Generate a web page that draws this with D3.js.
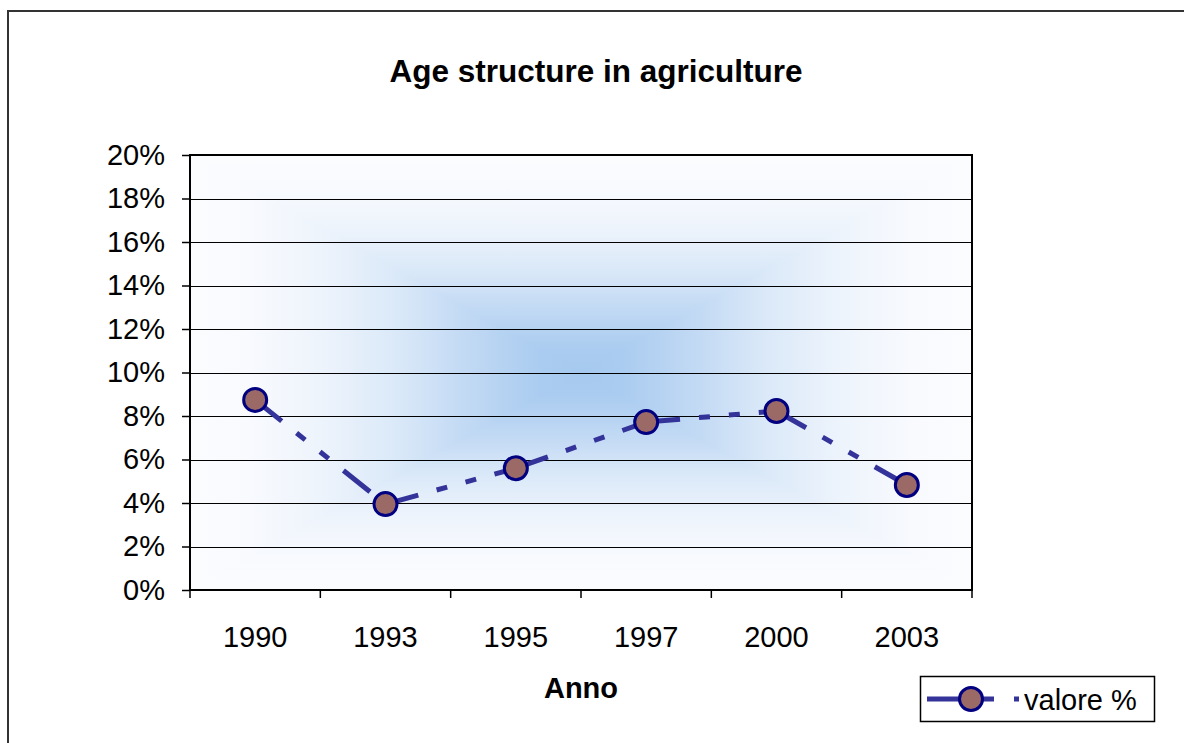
<!DOCTYPE html>
<html>
<head>
<meta charset="utf-8">
<script src="https://cdn.jsdelivr.net/npm/d3@7"></script>
<style>
  body { margin: 0; background: #fff; }
  #chart { width: 1184px; height: 743px; }
  text { font-family: "Liberation Sans", Arial, sans-serif; fill: #000; }
</style>
</head>
<body>
<div id="chart"></div>
<script>
const years = ["1990", "1993", "1995", "1997", "2000", "2003"];
const valori = [0.0874, 0.0395, 0.056, 0.0772, 0.0823, 0.0483];
const yTicks = [0, 0.02, 0.04, 0.06, 0.08, 0.10, 0.12, 0.14, 0.16, 0.18, 0.20];
const seriesName = "valore %";

const data = years.map((y, i) => ({ anno: y, valore: valori[i] }));

const width = 1184, height = 743;
const margin = { top: 155, right: 212, bottom: 153, left: 190 };

const svg = d3.select("#chart").append("svg")
    .attr("width", width)
    .attr("height", height);

const x = d3.scaleBand()
    .domain(years)
    .range([margin.left, width - margin.right])
    .padding(0);

const y = d3.scaleLinear()
    .domain([0, 0.2])
    .range([height - margin.bottom, margin.top]);

const x0 = x.range()[0], x1 = x.range()[1];
const yb = y(0), yt = y(0.2);
const cx = (x0 + x1) / 2, cy = (yb + yt) / 2;

// outer chart border (runs off the right / bottom edge)
svg.append("path")
    .attr("d", `M8,${height + 5}V11H${width + 5}`)
    .attr("fill", "none")
    .attr("stroke", "#333")
    .attr("stroke-width", 2);

// background "from center" gradient (rectangular contours)
const defs = svg.append("defs");
const blueAt = d3.interpolateRgb("#fbfcfe", "#a6c9ef");
// [distance from edge (0..0.5), amount of blue]
const ramp = [[0, 0], [0.075, 0.03], [0.165, 0.15], [0.27, 0.4], [0.33, 0.6], [0.395, 0.8], [0.45, 0.95], [0.5, 1]];
function grad(id, x1g, y1g, x2g, y2g) {
    const g = defs.append("linearGradient").attr("id", id)
        .attr("x1", x1g).attr("y1", y1g).attr("x2", x2g).attr("y2", y2g);
    const stops = ramp.concat(ramp.slice(0, -1).reverse().map(([o, v]) => [1 - o, v]));
    g.selectAll("stop").data(stops).join("stop")
        .attr("offset", d => d[0])
        .attr("stop-color", d => blueAt(d[1]));
}
grad("gv", 0, 0, 0, 1);
grad("gh", 0, 0, 1, 0);

svg.append("rect")
    .attr("x", x0).attr("y", yt)
    .attr("width", x1 - x0).attr("height", yb - yt)
    .attr("fill", "url(#gv)");

svg.append("path")
    .attr("d", `M${x0},${yt}L${cx},${cy}L${x0},${yb}Z M${x1},${yt}L${cx},${cy}L${x1},${yb}Z`)
    .attr("fill", "url(#gh)");

// grid
svg.append("g")
    .selectAll("line")
    .data(yTicks.slice(1, -1))
    .join("line")
    .attr("x1", x0).attr("x2", x1)
    .attr("y1", d => Math.round(y(d)) + 0.5)
    .attr("y2", d => Math.round(y(d)) + 0.5)
    .attr("stroke", "#000")
    .attr("stroke-width", 1);

// plot frame
svg.append("rect")
    .attr("x", x0).attr("y", yt)
    .attr("width", x1 - x0).attr("height", yb - yt)
    .attr("fill", "none")
    .attr("stroke", "#000")
    .attr("stroke-width", 2);

// axes
const yAxis = svg.append("g")
    .attr("transform", `translate(${x0},0)`)
    .call(d3.axisLeft(y).tickValues(yTicks).tickFormat(d3.format(".0%")).tickSize(8).tickSizeOuter(0).tickPadding(17));
yAxis.select(".domain").remove();
yAxis.selectAll("line").attr("stroke", "#000").attr("stroke-width", 1.5);
yAxis.selectAll("text").attr("font-size", 29).attr("fill", "#000")
    .style("font-family", "'Liberation Sans', Arial, sans-serif");

const xTickPos = years.map(d => x(d)).concat([x1]);
svg.append("g")
    .selectAll("line")
    .data(xTickPos)
    .join("line")
    .attr("x1", d => d).attr("x2", d => d)
    .attr("y1", yb).attr("y2", yb + 8)
    .attr("stroke", "#000").attr("stroke-width", 1.5);

svg.append("g")
    .selectAll("text")
    .data(years)
    .join("text")
    .attr("x", d => x(d) + x.bandwidth() / 2)
    .attr("y", yb + 57)
    .attr("text-anchor", "middle")
    .attr("font-size", 29)
    .text(d => d);

// titles
svg.append("text")
    .attr("x", 596).attr("y", 82)
    .attr("text-anchor", "middle")
    .attr("font-size", 31.5)
    .attr("font-weight", "bold")
    .text("Age structure in agriculture");

svg.append("text")
    .attr("x", cx).attr("y", 698)
    .attr("text-anchor", "middle")
    .attr("font-size", 29)
    .attr("font-weight", "bold")
    .text("Anno");

// series line, each segment dashed from its own start
const lineColor = "#333399";
const px = d => x(d.anno) + x.bandwidth() / 2;
const segs = d3.pairs(data);
svg.append("g")
    .selectAll("line")
    .data(segs)
    .join("line")
    .attr("x1", d => px(d[0])).attr("y1", d => y(d[0].valore))
    .attr("x2", d => px(d[1])).attr("y2", d => y(d[1].valore))
    .attr("stroke", lineColor)
    .attr("stroke-width", 5)
    .attr("stroke-dasharray", "34,19,11,19,11,19");

svg.append("g")
    .selectAll("circle")
    .data(data)
    .join("circle")
    .attr("cx", px)
    .attr("cy", d => y(d.valore))
    .attr("r", 11.5)
    .attr("fill", "#9c6a66")
    .attr("stroke", "#000080")
    .attr("stroke-width", 3);

// legend
const lg = svg.append("g").attr("transform", "translate(920,676)");
lg.append("rect")
    .attr("x", 0.5).attr("y", 0.5)
    .attr("width", 234).attr("height", 45)
    .attr("fill", "#fff")
    .attr("stroke", "#000")
    .attr("stroke-width", 1.5);
lg.append("line")
    .attr("x1", 7).attr("x2", 74)
    .attr("y1", 23).attr("y2", 23)
    .attr("stroke", lineColor).attr("stroke-width", 5);
lg.append("rect")
    .attr("x", 94).attr("y", 20.5).attr("width", 5).attr("height", 5)
    .attr("fill", lineColor);
lg.append("circle")
    .attr("cx", 51).attr("cy", 23).attr("r", 11.5)
    .attr("fill", "#9c6a66")
    .attr("stroke", "#000080")
    .attr("stroke-width", 3);
lg.append("text")
    .attr("x", 104).attr("y", 34)
    .attr("font-size", 29)
    .text(seriesName);
</script>
</body>
</html>
